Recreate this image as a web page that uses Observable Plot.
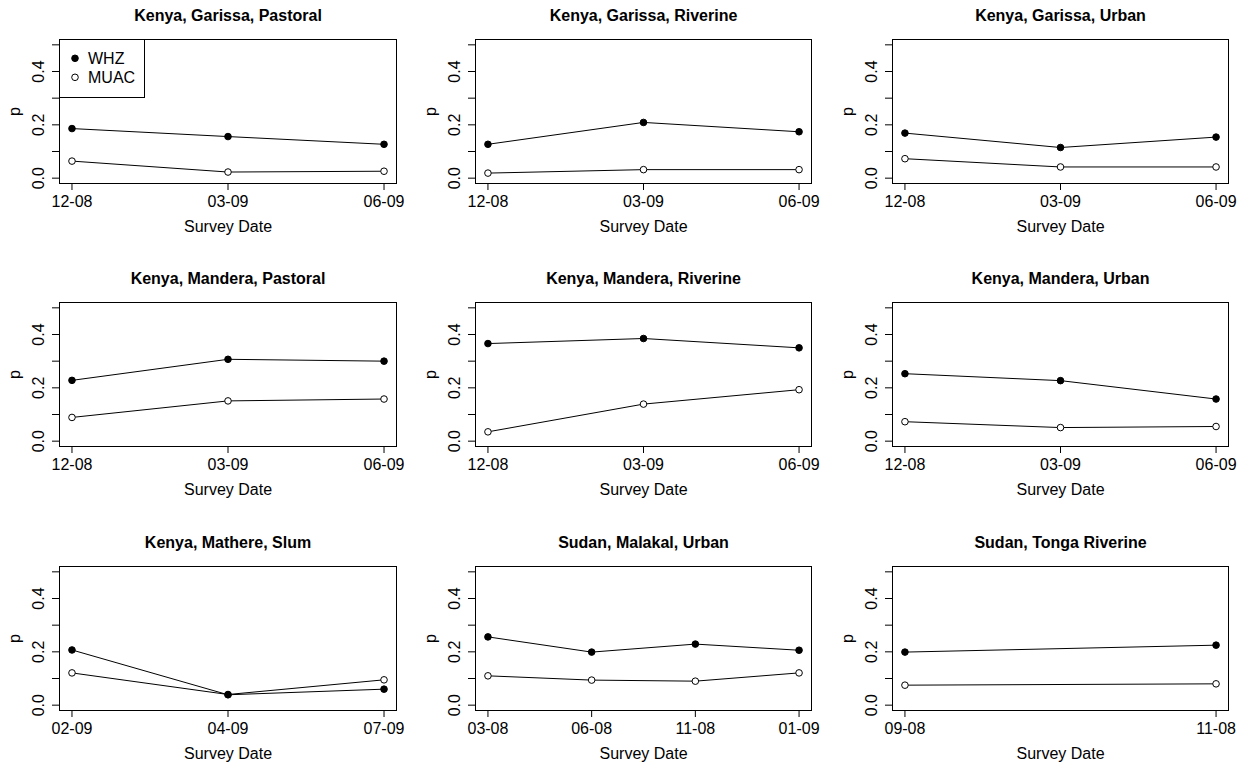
<!DOCTYPE html>
<html>
<head>
<meta charset="utf-8">
<script src="https://cdn.jsdelivr.net/npm/d3@7"></script>
<script src="https://cdn.jsdelivr.net/npm/@observablehq/plot@0.6"></script>
<style>
  body { margin: 0; background: #fff; }
  #chart { position: relative; width: 1244px; height: 766px; overflow: hidden; background: #fff; }
  #chart svg { position: absolute; overflow: visible; }
</style>
</head>
<body>
<div id="chart"></div>
<script>
// ---- data ----
const titles = [
  "Kenya, Garissa, Pastoral", "Kenya, Garissa, Riverine", "Kenya, Garissa, Urban",
  "Kenya, Mandera, Pastoral", "Kenya, Mandera, Riverine", "Kenya, Mandera, Urban",
  "Kenya, Mathere, Slum", "Sudan, Malakal, Urban", "Sudan, Tonga Riverine"
];
const surveyDates = [
  ["12-08", "03-09", "06-09"],
  ["12-08", "03-09", "06-09"],
  ["12-08", "03-09", "06-09"],
  ["12-08", "03-09", "06-09"],
  ["12-08", "03-09", "06-09"],
  ["12-08", "03-09", "06-09"],
  ["02-09", "04-09", "07-09"],
  ["03-08", "06-08", "11-08", "01-09"],
  ["09-08", "11-08"]
];
const whz = [
  [0.186, 0.156, 0.127],
  [0.127, 0.209, 0.174],
  [0.169, 0.115, 0.154],
  [0.228, 0.307, 0.300],
  [0.366, 0.385, 0.350],
  [0.253, 0.227, 0.158],
  [0.207, 0.039, 0.060],
  [0.256, 0.199, 0.229, 0.206],
  [0.199, 0.225]
];
const muac = [
  [0.064, 0.023, 0.026],
  [0.019, 0.032, 0.032],
  [0.073, 0.042, 0.042],
  [0.089, 0.151, 0.158],
  [0.035, 0.139, 0.193],
  [0.073, 0.051, 0.055],
  [0.121, 0.040, 0.095],
  [0.110, 0.094, 0.090, 0.121],
  [0.075, 0.080]
];
const yTicks = [0, 0.1, 0.2, 0.3, 0.4, 0.5];
const yTickLabels = [0, 0.2, 0.4];
const yDomain = [-0.02, 0.52];
const legendLabels = ["WHZ", "MUAC"];
const legendFills = ["#000", "#fff"];
const xAxisLabel = "Survey Date";
const yAxisLabel = "p";

// ---- layout ----
const colLeft = [0, 416, 833];
const colWidth = [414, 413, 413];
const rowTop = [0, 263, 527];
const M = { top: 39, bottom: 55, left: 59, right: 18 };
const H = 238;
const FONT = "'Liberation Sans', Arial, Helvetica, sans-serif";

const chart = document.getElementById("chart");

titles.forEach((title, k) => {
  const dates = surveyDates[k];
  const n = dates.length;
  const rows = dates.map((d, i) => ({ i, date: d, whz: whz[k][i], muac: muac[k][i] }));
  const col = k % 3, row = Math.floor(k / 3);
  const pad = 0.04 * (n - 1);

  const svg = Plot.plot({
    width: colWidth[col],
    height: H,
    marginTop: M.top,
    marginBottom: M.bottom,
    marginLeft: M.left,
    marginRight: M.right,
    style: { fontFamily: FONT, fontSize: "16px", color: "#000", background: "transparent", overflow: "visible" },
    x: { type: "linear", domain: [-pad, n - 1 + pad], label: null },
    y: { domain: yDomain, label: null },
    marks: [
      Plot.frame({ stroke: "#000", strokeWidth: 1 }),
      Plot.axisX({
        ticks: rows.map(r => r.i),
        tickFormat: i => dates[i],
        tickSize: 7,
        tickPadding: 5,
        label: null,
        fontSize: 16
      }),
      Plot.axisY({ ticks: yTicks, tickSize: 7, tickFormat: () => "", label: null }),
      Plot.text(yTickLabels, {
        y: d => d, text: d => d.toFixed(1), frameAnchor: "left",
        textAnchor: "middle", lineAnchor: "middle", rotate: -90, dx: -21, fontSize: 16
      }),
      Plot.text([yAxisLabel], {
        text: d => d, frameAnchor: "left", textAnchor: "middle", lineAnchor: "middle",
        rotate: -90, dx: -45, fontSize: 16
      }),
      Plot.text([xAxisLabel], {
        text: d => d, frameAnchor: "bottom", textAnchor: "middle", lineAnchor: "middle",
        dy: 43, fontSize: 16
      }),
      Plot.text([title], {
        text: d => d, frameAnchor: "top", textAnchor: "middle", lineAnchor: "middle",
        dy: -24, fontSize: 16, fontWeight: "bold"
      }),
      Plot.line(rows, { x: "i", y: "muac", stroke: "#000", strokeWidth: 1 }),
      Plot.line(rows, { x: "i", y: "whz", stroke: "#000", strokeWidth: 1 }),
      Plot.dot(rows, { x: "i", y: "muac", r: 3.3, fill: "#fff", stroke: "#000", strokeWidth: 1 }),
      Plot.dot(rows, { x: "i", y: "whz", r: 3.3, fill: "#000", stroke: "#000", strokeWidth: 1 })
    ]
  });
  svg.style.left = colLeft[col] + "px";
  svg.style.top = rowTop[row] + "px";
  chart.appendChild(svg);

  if (k === 0) {
    const g = d3.select(svg).append("g")
      .attr("font-family", FONT).attr("font-size", 16).attr("text-anchor", "start");
    g.append("rect")
      .attr("x", M.left + 0.5).attr("y", M.top + 0.5)
      .attr("width", 85).attr("height", 58)
      .attr("fill", "#fff").attr("stroke", "#000");
    legendLabels.forEach((lab, i) => {
      const cy = M.top + 19.3 + i * 19;
      g.append("circle").attr("cx", M.left + 16).attr("cy", cy).attr("r", 3.3)
        .attr("fill", legendFills[i]).attr("stroke", "#000").attr("stroke-width", 1);
      g.append("text").attr("x", M.left + 29).attr("y", cy + 6)
        .attr("text-anchor", "start").attr("fill", "#000").text(lab);
    });
  }
});
</script>
</body>
</html>
